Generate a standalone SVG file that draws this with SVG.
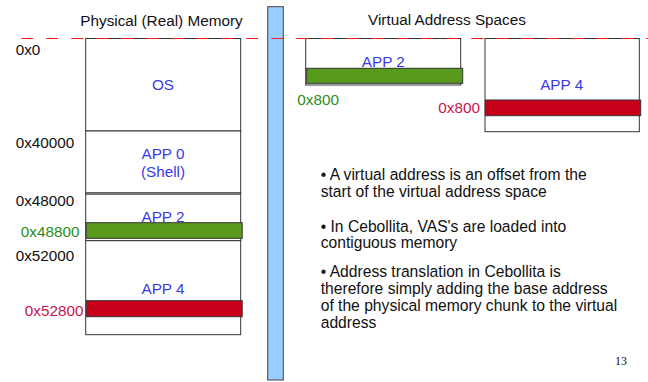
<svg xmlns="http://www.w3.org/2000/svg" width="648" height="382" viewBox="0 0 648 382">
  <style>
    text { font-family: "Liberation Sans", Arial, sans-serif; font-size: 15.3px; fill: #111; }
    .note { font-size: 15.65px; }
    .seg { fill: #fff; stroke: #333; stroke-width: 1; }
    .blue { fill: #3a3ae6; text-anchor: middle; }
    .grn { fill: #2a8c1e; }
    .red { fill: #c8144a; }
    .gbar { fill: #589a1c; stroke: #333; stroke-width: 1; }
    .rbar { fill: #c8001a; stroke: #333; stroke-width: 1; }
  </style>

  <rect width="648" height="382" fill="#fff"/>

  <!-- headings -->
  <text x="161.5" y="25.5" text-anchor="middle">Physical (Real) Memory</text>
  <text x="447" y="25" text-anchor="middle">Virtual Address Spaces</text>

  <!-- physical memory column -->
  <g id="phys-os">
    <rect class="seg" x="85.7" y="38.5" width="155" height="92.5"/>
    <text class="blue" x="163" y="90">OS</text>
  </g>
  <g id="phys-app0">
    <rect class="seg" x="85.7" y="131" width="155" height="62"/>
    <text class="blue" x="163" y="159.3">APP 0</text>
    <text class="blue" x="163" y="176.7">(Shell)</text>
  </g>
  <g id="phys-app2">
    <rect class="seg" x="85.7" y="193" width="155" height="47.7" stroke-width="1.5"/>
    <line x1="85.7" y1="194.2" x2="240.7" y2="194.2" stroke="#333" stroke-width="1"/>
    <text class="blue" x="163" y="222">APP 2</text>
    <rect class="gbar" x="86.2" y="222.7" width="156" height="15.6"/>
  </g>
  <g id="phys-app4">
    <rect class="seg" x="85.7" y="240.7" width="155" height="94"/>
    <text class="blue" x="163" y="294.3">APP 4</text>
    <rect class="rbar" x="86.2" y="300.7" width="156" height="16"/>
  </g>

  <!-- address labels -->
  <g id="phys-labels">
    <text x="15.7" y="55">0x0</text>
    <text x="15.7" y="148">0x40000</text>
    <text x="15.7" y="206">0x48000</text>
    <text class="grn" x="79.5" y="237.3" text-anchor="end">0x48800</text>
    <text x="15.7" y="261">0x52000</text>
    <text class="red" x="83.5" y="316" text-anchor="end">0x52800</text>
  </g>

  <!-- divider bar -->
  <g id="divider">
    <rect x="267.7" y="6.7" width="15.6" height="373.3" fill="#99ccff" stroke="#444" stroke-width="1"/>
  </g>

  <!-- virtual address spaces -->
  <g id="vas-app2">
    <rect class="seg" x="305.7" y="38.5" width="155" height="46.5"/>
    <text class="blue" x="383.3" y="66.5">APP 2</text>
    <rect class="gbar" x="306.7" y="68.3" width="156" height="15"/>
    <text class="grn" x="297.3" y="105">0x800</text>
  </g>
  <g id="vas-app4">
    <rect class="seg" x="485" y="38.5" width="154.3" height="93.2"/>
    <text class="blue" x="561.7" y="90">APP 4</text>
    <rect class="rbar" x="485.3" y="100" width="155.4" height="15.7"/>
    <text class="red" x="480" y="113.3" text-anchor="end">0x800</text>
  </g>

  <!-- base-address guide line -->
  <g id="connectors">
    <line x1="19" y1="38.5" x2="648" y2="38.5" stroke="#ff1a1a" stroke-width="1" stroke-dasharray="12 13" stroke-dashoffset="-2.3"/>
  </g>

  <!-- explanatory notes -->
  <g id="notes">
    <text class="note" x="320.7" y="180">• A virtual address is an offset from the</text>
    <text class="note" x="320.7" y="196.7">start of the virtual address space</text>
    <text class="note" x="320.7" y="231.7">• In Cebollita, VAS's are loaded into</text>
    <text class="note" x="320.7" y="248.4">contiguous memory</text>
    <text class="note" x="320.7" y="276.7">• Address translation in Cebollita is</text>
    <text class="note" x="320.7" y="293.5">therefore simply adding the base address</text>
    <text class="note" x="320.7" y="310.5">of the physical memory chunk to the virtual</text>
    <text class="note" x="320.7" y="327.5">address</text>
  </g>

  <text x="615" y="365" style="font-family: 'Liberation Serif', 'Times New Roman', serif; font-size: 12px;">13</text>
</svg>
